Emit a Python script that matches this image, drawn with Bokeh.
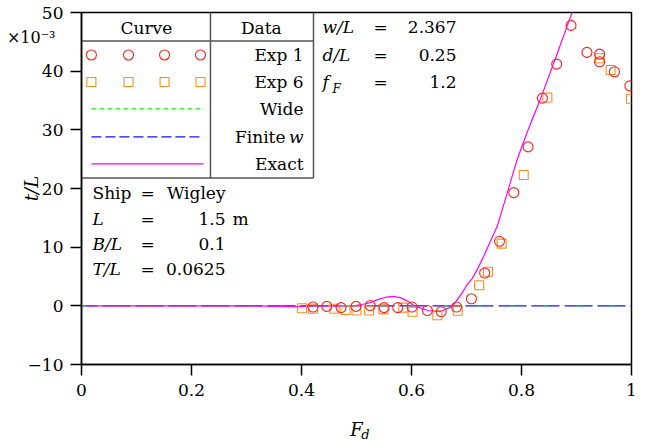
from bokeh.plotting import figure
from bokeh.models import Label, Range1d, FixedTicker, LinearAxis
from bokeh.embed import file_html
from bokeh.resources import INLINE

# ---------------- data (t/L in units of 1e-3) ----------------
exp1_x = [0.421, 0.446, 0.472, 0.499, 0.525, 0.550, 0.575, 0.601, 0.629, 0.654, 0.682, 0.709,
          0.733, 0.760, 0.786, 0.812, 0.838, 0.864, 0.890, 0.919, 0.942, 0.942, 0.969, 0.997]
exp1_y = [-0.2, -0.1, -0.3, -0.1, 0.05, -0.3, -0.3, -0.2, -0.8, -1.0, -0.2, 1.2,
          5.6, 11.0, 19.3, 27.1, 35.4, 41.2, 47.8, 43.2, 42.9, 41.6, 39.9, 37.5]

exp6_x = [0.401, 0.421, 0.460, 0.480, 0.500, 0.523, 0.549, 0.585, 0.602, 0.647, 0.684,
          0.723, 0.739, 0.764, 0.804, 0.847, 0.942, 0.962, 0.999]
exp6_y = [-0.4, -0.5, -0.5, -0.7, -0.8, -0.8, -0.6, -0.3, -1.0, -1.6, -0.85,
          3.5, 5.8, 10.6, 22.3, 35.5, 42.2, 40.2, 35.3]

exact_x = [0.01, 0.10, 0.20, 0.30, 0.36, 0.39, 0.42, 0.46, 0.50, 0.52, 0.54, 0.555, 0.566,
           0.58, 0.595, 0.605, 0.63, 0.652, 0.674, 0.683, 0.692, 0.701, 0.710, 0.720,
           0.731, 0.740, 0.756, 0.765, 0.774, 0.783, 0.792, 0.800, 0.810, 0.820, 0.835,
           0.850, 0.865, 0.878, 0.892, 0.905]
exact_y = [0.0, 0.0, 0.0, 0.0, -0.1, -0.15, 0.0, 0.0, 0.1, 0.4, 1.1, 1.5, 1.6,
           1.4, 0.7, 0.0, -0.8, -1.0, -0.1, 1.0, 2.2, 3.6, 4.6, 6.3,
           8.4, 10.3, 13.6, 16.4, 19.2, 22.1, 24.9, 27.0, 29.5, 31.9, 35.4,
           39.2, 43.0, 46.4, 50.0, 53.0]

wide_x = [0.0, 1.0]
wide_y = [0.0, 0.0]
finite_x = [0.0, 1.0]
finite_y = [0.0, 0.0]

x_ticks = [0, 0.2, 0.4, 0.6, 0.8, 1.0]
x_tick_labels = ["0", "0.2", "0.4", "0.6", "0.8", "1"]
y_ticks = [-10, 0, 10, 20, 30, 40, 50]
y_tick_labels = ["\u221210", "0", "10", "20", "30", "40", "50"]
y_scale_label = "\u00d710\u207b\u00b3"
x_label_main = "F"
x_label_sub = "d"

curve_names = ["Exp 1", "Exp 6", "Wide", "Finite", "Exact"]
ship_rows = [("Ship", "=", "Wigley", ""), ("L", "=", "1.5", "m"),
             ("B/L", "=", "0.1", ""), ("T/L", "=", "0.0625", "")]
param_rows = [("w/L", "=", "2.367"), ("d/L", "=", "0.25"), ("f", "=", "1.2")]

# ---------------- style ----------------
FONT = "DejaVu Serif"
RED = "#ff2020"
ORANGE = "#ff8c1a"
GREEN = "#22dd22"
BLUE = "#1010ff"
MAGENTA = "#ff00ff"
BOXC = "#555555"

p = figure(frame_width=550, frame_height=352, x_range=Range1d(0, 1), y_range=Range1d(-10, 50),
           output_backend="svg", toolbar_location=None,
           min_border_left=81, min_border_right=6, min_border_top=12, min_border_bottom=40)
p.grid.visible = False
p.background_fill_color = "white"
p.outline_line_color = "black"
p.outline_line_width = 1.5

for ax in (p.xaxis[0], p.yaxis[0]):
    ax.axis_line_color = "black"
    ax.axis_line_width = 1.5
    ax.major_tick_line_color = "black"
    ax.major_tick_line_width = 1.5
    ax.major_tick_out = 11
    ax.major_tick_in = 0
    ax.minor_tick_line_color = None
    ax.major_label_text_font = FONT
    ax.major_label_text_font_size = "17px"
    ax.major_label_text_color = "black"
    ax.axis_label_text_font = FONT
    ax.axis_label_text_font_size = "18px"
    ax.axis_label_text_font_style = "italic"
    ax.axis_label_text_color = "black"

p.xaxis.ticker = FixedTicker(ticks=x_ticks)
p.xaxis.major_label_overrides = {t: s for t, s in zip(x_ticks, x_tick_labels)}
p.yaxis.ticker = FixedTicker(ticks=y_ticks)
p.yaxis.major_label_overrides = {t: s for t, s in zip(y_ticks, y_tick_labels)}
p.xaxis.major_label_standoff = 8
p.yaxis.major_label_standoff = 7
p.xaxis.axis_label = x_label_main
p.xaxis.axis_label_standoff = 20
p.yaxis.axis_label = "t/L"
p.yaxis.axis_label_standoff = -17


def text_axis(kind, pos, text, size, style, standoff):
    ax = LinearAxis(ticker=FixedTicker(ticks=[pos]), major_label_overrides={pos: text},
                    axis_line_color=None, major_tick_line_color=None, minor_tick_line_color=None,
                    major_tick_out=0, major_tick_in=0, major_label_standoff=standoff,
                    major_label_text_font=FONT, major_label_text_font_size=size,
                    major_label_text_font_style=style, major_label_text_color="black")
    p.add_layout(ax, kind)


# subscript of the x-axis label and the y scale factor, as extra text-only axes
text_axis("below", 0.516, x_label_sub, "13px", "italic", -16)
text_axis("left", 45.7, y_scale_label, "16px", "normal", -38)

# ---------------- data marks ----------------
p.line(finite_x, finite_y, line_color=BLUE, line_width=1.3, line_dash="28 5", line_dash_offset=12)
p.line(wide_x, wide_y, line_color=GREEN, line_width=1.3, line_dash="4 29")
p.line(exact_x, exact_y, line_color=MAGENTA, line_width=1.2)
p.scatter(exp6_x, exp6_y, marker="square", size=9, fill_color=None, line_color=ORANGE, line_width=1.1)
p.scatter(exp1_x, exp1_y, marker="circle", size=10, fill_color=None, line_color=RED, line_width=1.1)


def lab(x, y, text, align="left", style="normal", size="17px", base="middle"):
    p.add_layout(Label(x=x, y=y, text=text, text_align=align, text_baseline=base,
                       text_font=FONT, text_font_size=size, text_font_style=style,
                       text_color="black"))


# ---------------- legend table ----------------
bx_l, bx_r, bx_t, bx_b = 0.0, 0.4218, 50.0, 21.8
hdr_y, div_x = 45.14, 0.2345
p.segment(x0=[bx_l, bx_l, bx_r, div_x], y0=[hdr_y, bx_b, bx_t, bx_t],
          x1=[bx_r, bx_r, bx_r, div_x], y1=[hdr_y, bx_b, bx_b, bx_b],
          line_color=BOXC, line_width=1.5)
lab(0.118, 47.36, "Curve", align="center")
lab(0.327, 47.36, "Data", align="center")

row_y = [42.76, 38.16, 33.56, 28.79, 24.19]
mk_x = [0.018, 0.0855, 0.151, 0.2164]
p.scatter(mk_x, [row_y[0]] * 4, marker="circle", size=10, fill_color=None, line_color=RED, line_width=1.1)
p.scatter(mk_x, [row_y[1]] * 4, marker="square", size=9, fill_color=None, line_color=ORANGE, line_width=1.1)
p.line([0.018, 0.222], [row_y[2]] * 2, line_color=GREEN, line_width=1.3, line_dash="5 3")
p.line([0.018, 0.222], [row_y[3]] * 2, line_color=BLUE, line_width=1.3, line_dash="10 4")
p.line([0.018, 0.222], [row_y[4]] * 2, line_color=MAGENTA, line_width=1.2)

txt_r = 0.4036
for i, name in enumerate(curve_names):
    if name == "Finite":
        lab(0.3709, row_y[i], name, align="right")
        lab(txt_r, row_y[i], "w", align="right", style="italic")
    else:
        lab(txt_r, row_y[i], name, align="right")

# ---------------- ship block ----------------
ship_y = [19.25, 14.82, 10.56, 6.30]
for i, (a, eq, v, u) in enumerate(ship_rows):
    lab(0.02, ship_y[i], a, style="normal" if a == "Ship" else "italic")
    lab(0.1073, ship_y[i], eq)
    lab(0.2618, ship_y[i], v, align="right")
    if u:
        lab(0.2745, ship_y[i], u)

# ---------------- parameter block ----------------
par_y = [47.53, 42.76, 38.16]
for i, (a, eq, v) in enumerate(param_rows):
    lab(0.4382, par_y[i], a, style="italic")
    lab(0.5309, par_y[i], eq)
    lab(0.6818, par_y[i], v, align="right")
lab(0.4564, 37.0, "F", style="italic", size="12px")

html = file_html(p, INLINE)
open("out.html", "w").write(html)
